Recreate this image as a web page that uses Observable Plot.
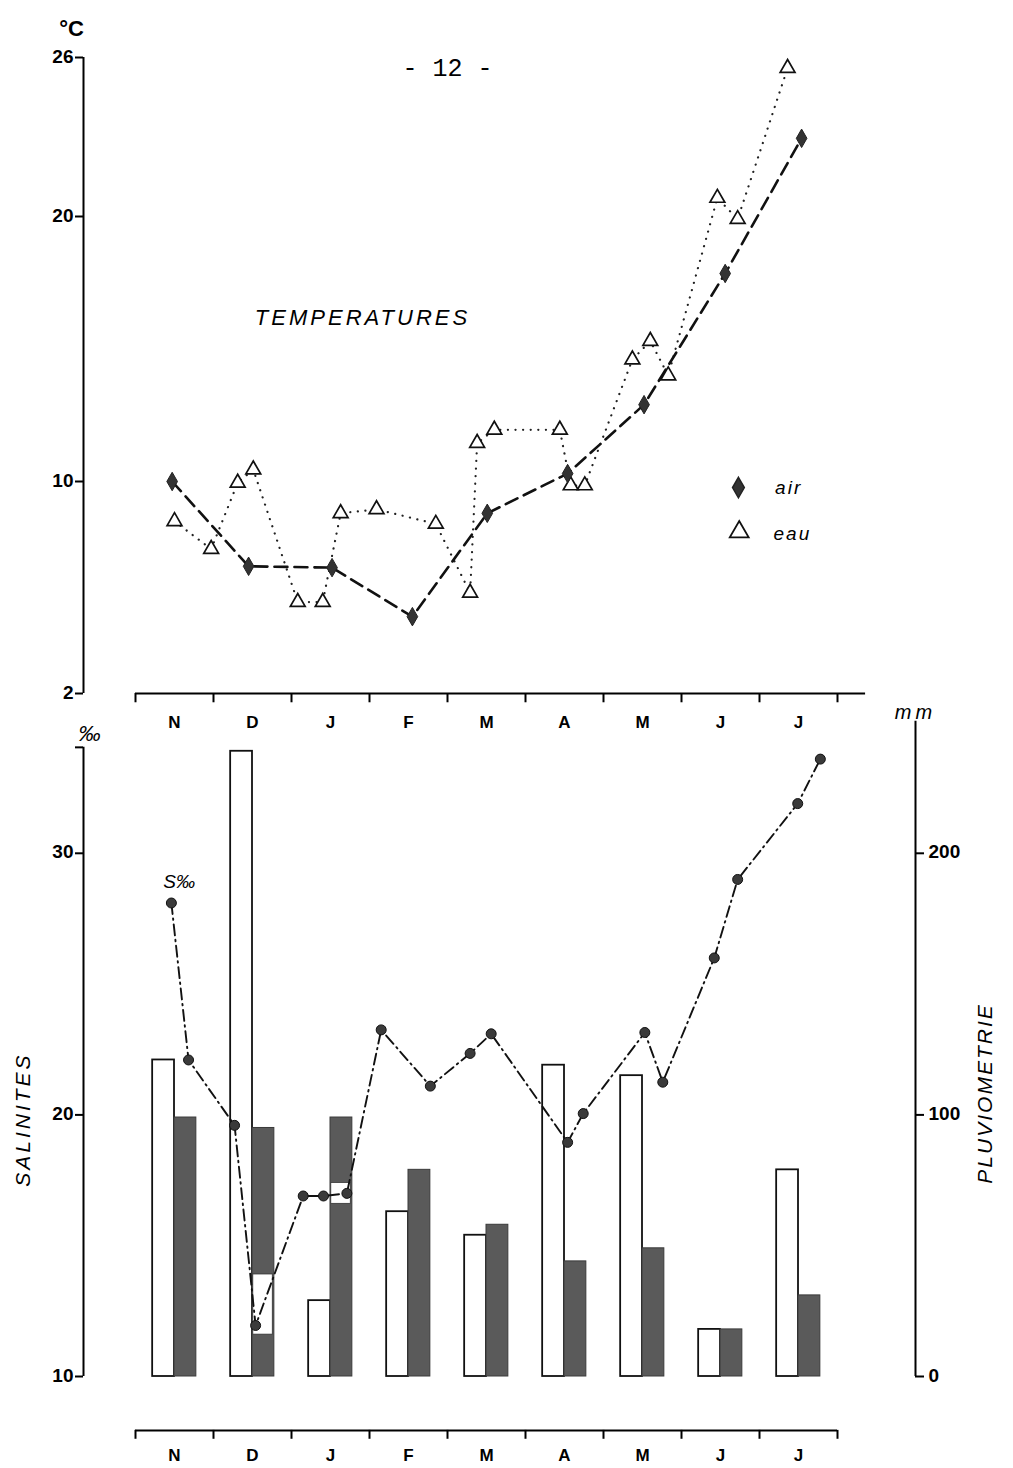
<!DOCTYPE html>
<html><head><meta charset="utf-8">
<script src="https://cdn.jsdelivr.net/npm/d3@7"></script>
<script src="https://cdn.jsdelivr.net/npm/@observablehq/plot@0.6"></script>
<style>
body{margin:0;background:#fff;}
#chart svg{display:block;}
</style>
</head><body><div id="chart"></div>
<script>
// ---------- data ----------
const months = ["N","D","J","F","M","A","M","J","J"];
const monthTicks = [0,1,2,3,4,5,6,7,8,9];

// temperatures (°C); position in months (0 = start of November)
const airT    = [0.47, 1.45, 2.52, 3.55, 4.51, 5.54, 6.52, 7.56, 8.54];
const airTemp = [10.0, 6.8, 6.75, 4.9, 8.8, 10.3, 12.9, 17.85, 22.95];
const eauT    = [0.5, 0.97, 1.31, 1.51, 2.08, 2.4, 2.63, 3.09, 3.85, 4.29, 4.38, 4.6, 5.44, 5.58, 5.76, 6.37, 6.6, 6.83, 7.46, 7.72, 8.36];
const eauTemp = [8.5, 7.45, 9.95, 10.45, 5.45, 5.45, 8.8, 8.95, 8.4, 5.8, 11.45, 11.95, 11.95, 9.85, 9.85, 14.6, 15.3, 14.0, 20.7, 19.9, 25.6];
const tempTicks = [2, 10, 20, 26];

// salinity (‰)
const salT     = [0.46, 0.68, 1.27, 1.54, 2.15, 2.41, 2.71, 3.15, 3.78, 4.29, 4.56, 5.54, 5.74, 6.53, 6.76, 7.42, 7.72, 8.49, 8.78];
const salinity = [28.1, 22.1, 19.6, 11.95, 16.9, 16.9, 17.0, 23.25, 21.1, 22.35, 23.1, 18.95, 20.05, 23.15, 21.25, 26.0, 29.0, 31.9, 33.6];
const salTicks = [10, 20, 30];

// pluviometrie (mm), two series per month
const rainOpen  = [121, 239, 29, 63, 54, 119, 115, 18, 79];
const rainShade = [99, 95, 99, 79, 58, 44, 49, 18, 31];
const rainTicks = [0, 100, 200];
// white knock-outs inside the shaded bars (month index, mm from, mm to)
const gapMonth = [1, 2];
const gapLow   = [16, 66];
const gapHigh  = [39, 74];

// ---------- helpers ----------
const FONT = "'Liberation Sans', Arial, sans-serif";
const X0 = -2/3, X1 = 10;
const BW = 0.28; // bar width in month units
const mm2s = mm => 10 + mm / 10;

const air = airT.map((t, i) => ({t, v: airTemp[i]}));
const eau = eauT.map((t, i) => ({t, v: eauTemp[i]}));
const sal = salT.map((t, i) => ({t, s: salinity[i]}));
const bars = months.map((m, i) => ({i, m, open: rainOpen[i], shade: rainShade[i]}));
const gaps = gapMonth.map((i, k) => ({i, lo: gapLow[k], hi: gapHigh[k]}));
const monthObjs = months.map((m, i) => ({i, m}));
const tickLab = {fontSize: 19, fontWeight: "bold"};

// ---------- top chart: temperatures ----------
const tempChart = Plot.plot({
  width: 1013, height: 705,
  marginLeft: 83, marginRight: 98, marginTop: 57, marginBottom: 12,
  x: {domain: [X0, X1], axis: null},
  y: {domain: [2, 26], axis: null},
  style: {fontFamily: FONT, background: "white", color: "black", overflow: "visible"},
  marks: [
    Plot.ruleX([X0], {y1: 2, y2: 26, strokeWidth: 2}),
    Plot.ruleY(tempTicks, {y: d => d, x1: X0 - 8/78, x2: X0, strokeWidth: 2}),
    Plot.text(tempTicks, {y: d => d, x: X0, dx: -10, dy: -1, text: d => String(d), textAnchor: "end", ...tickLab}),
    Plot.ruleY([2], {x1: 0, x2: 9.36, strokeWidth: 2}),
    Plot.ruleX(monthTicks, {x: d => d, y1: 2, y2: 1.65, strokeWidth: 2}),
    Plot.line(eau, {x: "t", y: "v", stroke: "#222", strokeWidth: 2.2, strokeDasharray: "0.1,7.5", strokeLinecap: "round"}),
    Plot.line(air, {x: "t", y: "v", stroke: "#111", strokeWidth: 2.6, strokeDasharray: "13,7"}),
    Plot.dot(eau, {x: "t", y: "v", symbol: "triangle", r: 5.5, fill: "white", stroke: "#111", strokeWidth: 1.7}),
    Plot.dot(air, {x: "t", y: "v", symbol: "diamond", r: 5.6, fill: "#333", stroke: "#222", strokeWidth: 1}),
    // legend
    Plot.dot([{t: 7.73, v: 9.77}], {x: "t", y: "v", symbol: "diamond", r: 6.2, fill: "#333", stroke: "#222"}),
    Plot.dot([{t: 7.74, v: 8.1}], {x: "t", y: "v", symbol: "triangle", r: 7, fill: "white", stroke: "#111", strokeWidth: 1.8}),
    Plot.text(["air"], {x: 8.2, y: 9.77, text: d => d, textAnchor: "start", fontSize: 19, fontStyle: "italic"}),
    Plot.text(["eau"], {x: 8.18, y: 8.04, text: d => d, textAnchor: "start", fontSize: 19, fontStyle: "italic"}),
    // labels
    Plot.text(["°C"], {x: X0, y: 26, dx: -12, dy: -29, text: d => d, fontSize: 22, fontWeight: "bold"}),
    Plot.text(["- 12 -"], {x: 4, y: 26, dy: 10, text: d => d, fontSize: 25, fontFamily: "'Liberation Mono', 'Courier New', monospace"}),
    Plot.text(["TEMPERATURES"], {x: 2.91, y: 16.19, text: d => d, fontSize: 22, fontStyle: "italic"})
  ]
});

// ---------- bottom chart: salinity & rainfall ----------
const salChart = Plot.plot({
  width: 1013, height: 763,
  marginLeft: 83, marginRight: 98, marginTop: 17, marginBottom: 92,
  x: {domain: [X0, X1], axis: null},
  y: {domain: [10, 35], axis: null},
  style: {fontFamily: FONT, background: "white", color: "black", overflow: "visible"},
  marks: [
    // month labels of the temperature axis (sitting between the panels)
    Plot.text(monthObjs, {x: d => d.i + 0.5, y: 35, text: "m", fontSize: 17, fontWeight: "bold"}),
    // bars
    Plot.rect(bars, {x1: d => d.i + 0.5 - BW, x2: d => d.i + 0.5, y1: 10, y2: d => mm2s(d.open), fill: "white", stroke: "#111", strokeWidth: 1.8}),
    Plot.rect(bars, {x1: d => d.i + 0.5, x2: d => d.i + 0.5 + BW, y1: 10, y2: d => mm2s(d.shade), fill: "#5a5a5a", stroke: "#3a3a3a", strokeWidth: 1}),
    Plot.rect(gaps, {x1: d => d.i + 0.5 + 0.01, x2: d => d.i + 0.5 + BW - 0.02, y1: d => mm2s(d.lo), y2: d => mm2s(d.hi), fill: "white", stroke: "#333", strokeWidth: 0.8}),
    // salinity
    Plot.line(sal, {x: "t", y: "s", stroke: "#111", strokeWidth: 1.9, strokeDasharray: "11,4.5,1.5,4.5"}),
    Plot.dot(sal, {x: "t", y: "s", r: 5, fill: "#3a3a3a", stroke: "#111", strokeWidth: 1}),
    // left axis
    Plot.ruleX([X0], {y1: 10, y2: 34.05, strokeWidth: 2}),
    Plot.ruleY([...salTicks, 34.05], {y: d => d, x1: X0 - 8/78, x2: X0, strokeWidth: 2}),
    Plot.text(salTicks, {y: d => d, x: X0, dx: -10, dy: -1, text: d => String(d), textAnchor: "end", ...tickLab}),
    // right axis
    Plot.ruleX([X1], {y1: 10, y2: 35.05, strokeWidth: 2}),
    Plot.ruleY(rainTicks, {y: mm2s, x1: X1, x2: X1 + 9/78, strokeWidth: 2}),
    Plot.text(rainTicks, {y: mm2s, x: X1, dx: 13, dy: -1, text: d => String(d), textAnchor: "start", ...tickLab}),
    // bottom month axis
    Plot.ruleY([7.94], {x1: 0, x2: 9, strokeWidth: 2}),
    Plot.ruleX(monthTicks, {x: d => d, y1: 7.94, y2: 7.6, strokeWidth: 2}),
    Plot.text(monthObjs, {x: d => d.i + 0.5, y: 6.98, text: "m", fontSize: 17, fontWeight: "bold"}),
    // labels
    Plot.text(["‰"], {x: -0.59, y: 34.58, text: d => d, fontSize: 22, fontStyle: "italic"}),
    Plot.text(["mm"], {x: X1, y: 35.38, text: d => d, fontSize: 20, fontStyle: "italic"}),
    Plot.text(["S‰"], {x: 0.56, y: 28.92, text: d => d, fontSize: 19, fontStyle: "italic"}),
    Plot.text(["SALINITES"], {x: -1.44, y: 19.82, text: d => d, rotate: -90, fontSize: 21, fontStyle: "italic"}),
    Plot.text(["PLUVIOMETRIE"], {x: 10.9, y: 20.82, text: d => d, rotate: -90, fontSize: 21, fontStyle: "italic"})
  ]
});

const root = document.getElementById("chart");
root.appendChild(tempChart);
root.appendChild(salChart);

// letter spacing for the spaced italic captions
const spacing = {"TEMPERATURES": 3, "SALINITES": 3, "PLUVIOMETRIE": 2, "air": 2, "eau": 2, "mm": 4};
d3.selectAll("#chart text").each(function() {
  const s = spacing[this.textContent];
  if (s != null) this.setAttribute("letter-spacing", s);
});
</script>
</body></html>
